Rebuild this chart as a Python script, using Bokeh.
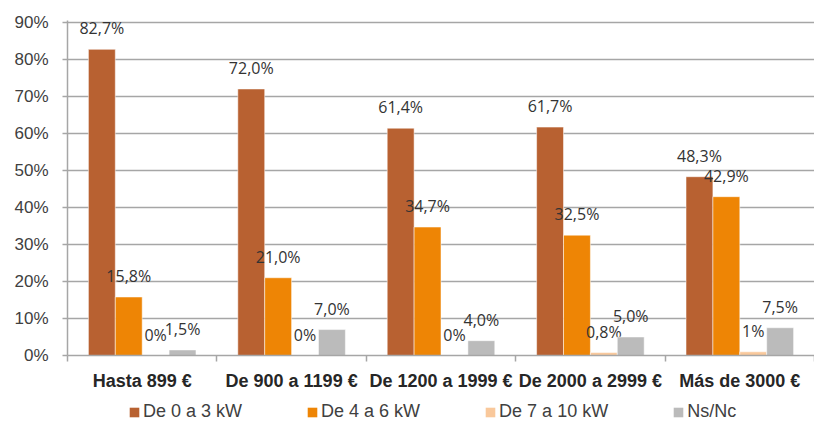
from bokeh.plotting import figure
from bokeh.layouts import column
from bokeh.models import Range1d, FixedTicker, Legend, LegendItem, ColumnDataSource
from bokeh.core.properties import value
from bokeh.embed import file_html
from bokeh.resources import INLINE

categories = ["Hasta 899 €", "De 900 a 1199 €", "De 1200 a 1999 €", "De 2000 a 2999 €", "Más de 3000 €"]
series_names = ["De 0 a 3 kW", "De 4 a 6 kW", "De 7 a 10 kW", "Ns/Nc"]
kw_0_3 = [82.7, 72.0, 61.4, 61.7, 48.3]
kw_4_6 = [15.8, 21.0, 34.7, 32.5, 42.9]
kw_7_10 = [0.0, 0.0, 0.0, 0.8, 1.0]
ns_nc = [1.5, 7.0, 4.0, 5.0, 7.5]
kw_7_10_labels = ["0%", "0%", "0%", "0,8%", "1%"]
y_ticks = [0, 10, 20, 30, 40, 50, 60, 70, 80, 90]
y_tick_labels = ["0%", "10%", "20%", "30%", "40%", "50%", "60%", "70%", "80%", "90%"]

colors = ["#B86131", "#EE8505", "#F9C89B", "#BBBBBB"]

def fmt(v):
    return f"{v:.1f}%".replace(".", ",")

series = [
    (kw_0_3, [fmt(v) for v in kw_0_3]),
    (kw_4_6, [fmt(v) for v in kw_4_6]),
    (kw_7_10, kw_7_10_labels),
    (ns_nc, [fmt(v) for v in ns_nc]),
]

n = len(categories)
bar_w = 0.18
offsets = [-1.5, -0.5, 0.5, 1.5]

p = figure(width=814, height=400, output_backend="svg", toolbar_location=None,
           x_range=Range1d(0, n), y_range=Range1d(0, 90.5),
           min_border_left=67, min_border_right=0, min_border_top=20, min_border_bottom=45)
p.outline_line_color = None
p.background_fill_color = "white"

font_axis = "Liberation Sans"
label_color = "#404040"

for (vals, labs), off, col in zip(series, offsets, colors):
    xs = [i + 0.5 + off * bar_w for i in range(n)]
    src = ColumnDataSource(dict(x=xs, top=vals, lab=labs))
    p.vbar(x="x", top="top", width=bar_w, source=src, fill_color=col,
           line_color="white", line_alpha=0.5, line_width=1)
    p.text(x="x", y="top", text="lab", source=src, text_align="center", text_baseline="middle",
           y_offset=-21, text_font=value("Open Sans"), text_font_size="16px", text_color="#333333")

# Y axis
p.yaxis.ticker = FixedTicker(ticks=y_ticks)
p.yaxis.major_label_overrides = {t: l for t, l in zip(y_ticks, y_tick_labels)}
p.yaxis.major_label_text_font = font_axis
p.yaxis.major_label_text_font_size = "17px"
p.yaxis.major_label_text_color = label_color
p.yaxis.axis_line_color = "#A6A6A6"
p.yaxis.axis_line_width = 1.5
p.yaxis.major_tick_line_color = "#A6A6A6"
p.yaxis.major_tick_line_width = 1.5
p.yaxis.major_tick_out = 5
p.yaxis.major_tick_in = 0
p.yaxis.minor_tick_line_color = None
p.yaxis.major_label_standoff = 14

# X axis: labels at category centres, ticks at boundaries
p.xaxis.ticker = FixedTicker(ticks=[i + 0.5 for i in range(n)], minor_ticks=list(range(n + 1)))
p.xaxis.major_label_overrides = {i + 0.5: c for i, c in enumerate(categories)}
p.xaxis.major_label_text_font = font_axis
p.xaxis.major_label_text_font_style = "bold"
p.xaxis.major_label_text_font_size = "18px"
p.xaxis.major_label_text_color = "#262626"
p.xaxis.major_tick_line_color = None
p.xaxis.major_tick_out = 0
p.xaxis.major_tick_in = 0
p.xaxis.minor_tick_line_color = "#A6A6A6"
p.xaxis.minor_tick_line_width = 1.5
p.xaxis.minor_tick_out = 6
p.xaxis.minor_tick_in = 0
p.xaxis.axis_line_color = "#A6A6A6"
p.xaxis.axis_line_width = 1.5
p.xaxis.major_label_standoff = 9

p.xgrid.grid_line_color = None
p.ygrid.grid_line_color = "#A6A6A6"
p.ygrid.grid_line_width = 1.5

# Legend row as a separate strip (no axes)
lg = figure(width=814, height=22, output_backend="svg", toolbar_location=None,
            x_range=Range1d(0, 1), y_range=Range1d(0, 1),
            x_axis_type=None, y_axis_type=None,
            min_border_left=0, min_border_right=0, min_border_top=0, min_border_bottom=0)
lg.grid.visible = False
lg.outline_line_color = None
items = []
for col, name in zip(colors, series_names):
    # zero-height placeholder bar so that the legend swatch has a colour
    r = lg.vbar(x=[-5], top=[0], bottom=[0], width=0.1, fill_color=col, line_color=None)
    items.append(LegendItem(label=name, renderers=[r]))
legend = Legend(items=items, orientation="horizontal", location=(61, 0),
                glyph_width=12, glyph_height=12, label_standoff=3, spacing=64,
                padding=0, margin=0, border_line_color=None, background_fill_alpha=0,
                label_text_font=font_axis, label_text_font_size="18px",
                label_text_color=label_color)
lg.add_layout(legend, "center")

layout = column(p, lg, spacing=0)
open("out.html", "w").write(file_html(layout, INLINE))
